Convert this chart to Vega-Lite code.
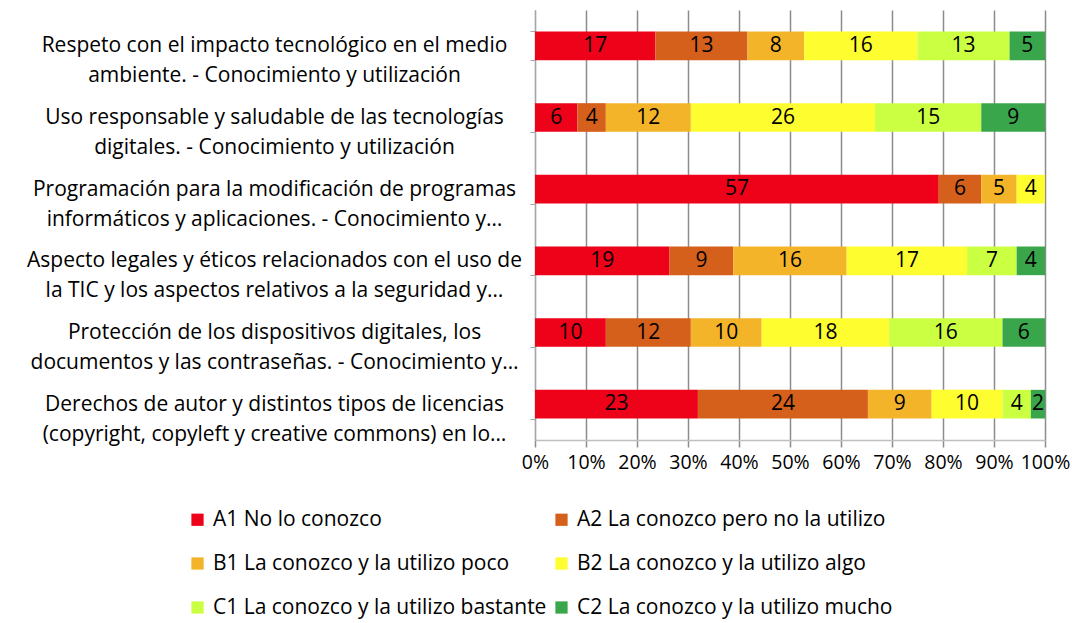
{
  "$schema": "https://vega.github.io/schema/vega-lite/v6.json",
  "width": 510,
  "height": 430,
  "autosize": {"type": "none"},
  "padding": {"left": 535, "top": 10, "right": 27, "bottom": 183},
  "background": "white",
  "config": {"font": "Open Sans", "view": {"stroke": null}},
  "data": {
    "values": [
      {"cat": "Respeto con el impacto tecnológico en el medio|ambiente. - Conocimiento y utilización", "s": "A1 No lo conozco", "v": 17},
      {"cat": "Respeto con el impacto tecnológico en el medio|ambiente. - Conocimiento y utilización", "s": "A2 La conozco pero no la utilizo", "v": 13},
      {"cat": "Respeto con el impacto tecnológico en el medio|ambiente. - Conocimiento y utilización", "s": "B1 La conozco y la utilizo poco", "v": 8},
      {"cat": "Respeto con el impacto tecnológico en el medio|ambiente. - Conocimiento y utilización", "s": "B2 La conozco y la utilizo algo", "v": 16},
      {"cat": "Respeto con el impacto tecnológico en el medio|ambiente. - Conocimiento y utilización", "s": "C1 La conozco y la utilizo bastante", "v": 13},
      {"cat": "Respeto con el impacto tecnológico en el medio|ambiente. - Conocimiento y utilización", "s": "C2 La conozco y la utilizo mucho", "v": 5},
      {"cat": "Uso responsable y saludable de las tecnologías|digitales. - Conocimiento y utilización", "s": "A1 No lo conozco", "v": 6},
      {"cat": "Uso responsable y saludable de las tecnologías|digitales. - Conocimiento y utilización", "s": "A2 La conozco pero no la utilizo", "v": 4},
      {"cat": "Uso responsable y saludable de las tecnologías|digitales. - Conocimiento y utilización", "s": "B1 La conozco y la utilizo poco", "v": 12},
      {"cat": "Uso responsable y saludable de las tecnologías|digitales. - Conocimiento y utilización", "s": "B2 La conozco y la utilizo algo", "v": 26},
      {"cat": "Uso responsable y saludable de las tecnologías|digitales. - Conocimiento y utilización", "s": "C1 La conozco y la utilizo bastante", "v": 15},
      {"cat": "Uso responsable y saludable de las tecnologías|digitales. - Conocimiento y utilización", "s": "C2 La conozco y la utilizo mucho", "v": 9},
      {"cat": "Programación para la modificación de programas|informáticos y aplicaciones. - Conocimiento y…", "s": "A1 No lo conozco", "v": 57},
      {"cat": "Programación para la modificación de programas|informáticos y aplicaciones. - Conocimiento y…", "s": "A2 La conozco pero no la utilizo", "v": 6},
      {"cat": "Programación para la modificación de programas|informáticos y aplicaciones. - Conocimiento y…", "s": "B1 La conozco y la utilizo poco", "v": 5},
      {"cat": "Programación para la modificación de programas|informáticos y aplicaciones. - Conocimiento y…", "s": "B2 La conozco y la utilizo algo", "v": 4},
      {"cat": "Programación para la modificación de programas|informáticos y aplicaciones. - Conocimiento y…", "s": "C1 La conozco y la utilizo bastante", "v": 0},
      {"cat": "Programación para la modificación de programas|informáticos y aplicaciones. - Conocimiento y…", "s": "C2 La conozco y la utilizo mucho", "v": 0},
      {"cat": "Aspecto legales y éticos relacionados con el uso de|la TIC y los aspectos relativos a la seguridad y…", "s": "A1 No lo conozco", "v": 19},
      {"cat": "Aspecto legales y éticos relacionados con el uso de|la TIC y los aspectos relativos a la seguridad y…", "s": "A2 La conozco pero no la utilizo", "v": 9},
      {"cat": "Aspecto legales y éticos relacionados con el uso de|la TIC y los aspectos relativos a la seguridad y…", "s": "B1 La conozco y la utilizo poco", "v": 16},
      {"cat": "Aspecto legales y éticos relacionados con el uso de|la TIC y los aspectos relativos a la seguridad y…", "s": "B2 La conozco y la utilizo algo", "v": 17},
      {"cat": "Aspecto legales y éticos relacionados con el uso de|la TIC y los aspectos relativos a la seguridad y…", "s": "C1 La conozco y la utilizo bastante", "v": 7},
      {"cat": "Aspecto legales y éticos relacionados con el uso de|la TIC y los aspectos relativos a la seguridad y…", "s": "C2 La conozco y la utilizo mucho", "v": 4},
      {"cat": "Protección de los dispositivos digitales, los|documentos y las contraseñas. - Conocimiento y…", "s": "A1 No lo conozco", "v": 10},
      {"cat": "Protección de los dispositivos digitales, los|documentos y las contraseñas. - Conocimiento y…", "s": "A2 La conozco pero no la utilizo", "v": 12},
      {"cat": "Protección de los dispositivos digitales, los|documentos y las contraseñas. - Conocimiento y…", "s": "B1 La conozco y la utilizo poco", "v": 10},
      {"cat": "Protección de los dispositivos digitales, los|documentos y las contraseñas. - Conocimiento y…", "s": "B2 La conozco y la utilizo algo", "v": 18},
      {"cat": "Protección de los dispositivos digitales, los|documentos y las contraseñas. - Conocimiento y…", "s": "C1 La conozco y la utilizo bastante", "v": 16},
      {"cat": "Protección de los dispositivos digitales, los|documentos y las contraseñas. - Conocimiento y…", "s": "C2 La conozco y la utilizo mucho", "v": 6},
      {"cat": "Derechos de autor y distintos tipos de licencias|(copyright, copyleft y creative commons) en lo…", "s": "A1 No lo conozco", "v": 23},
      {"cat": "Derechos de autor y distintos tipos de licencias|(copyright, copyleft y creative commons) en lo…", "s": "A2 La conozco pero no la utilizo", "v": 24},
      {"cat": "Derechos de autor y distintos tipos de licencias|(copyright, copyleft y creative commons) en lo…", "s": "B1 La conozco y la utilizo poco", "v": 9},
      {"cat": "Derechos de autor y distintos tipos de licencias|(copyright, copyleft y creative commons) en lo…", "s": "B2 La conozco y la utilizo algo", "v": 10},
      {"cat": "Derechos de autor y distintos tipos de licencias|(copyright, copyleft y creative commons) en lo…", "s": "C1 La conozco y la utilizo bastante", "v": 4},
      {"cat": "Derechos de autor y distintos tipos de licencias|(copyright, copyleft y creative commons) en lo…", "s": "C2 La conozco y la utilizo mucho", "v": 2}
    ]
  },
  "transform": [
    {"stack": "v", "groupby": ["cat"], "offset": "normalize", "sort": [{"field": "s", "order": "ascending"}], "as": ["x0", "x1"]},
    {"calculate": "(datum.x0 + datum.x1) / 2", "as": "xm"}
  ],
  "encoding": {
    "y": {
      "field": "cat",
      "type": "nominal",
      "sort": null,
      "scale": {"paddingInner": 0.6, "paddingOuter": 0.3},
      "axis": {
        "title": null,
        "labelExpr": "split(datum.label, '|')",
        "labelAlign": "center",
        "labelBaseline": "middle",
        "labelPadding": 256,
        "labelFontSize": 21,
        "labelLineHeight": 30,
        "labelColor": "black",
        "labelLimit": 0,
        "tickBand": "extent",
        "tickSize": 5,
        "tickColor": "#a6a6a6",
        "domainColor": "#a6a6a6"
      }
    }
  },
  "layer": [
    {
      "mark": {"type": "bar"},
      "encoding": {
        "x": {
          "field": "x0",
          "type": "quantitative",
          "scale": {"domain": [0, 1], "nice": false},
          "axis": {
            "title": null,
            "format": ".0%",
            "values": [0, 0.1, 0.2, 0.3, 0.4, 0.5, 0.6, 0.7, 0.8, 0.9, 1],
            "grid": true,
            "gridColor": "#8c8c8c",
            "gridWidth": 1.5,
            "tickColor": "#8c8c8c",
            "tickWidth": 1.5,
            "tickSize": 7,
            "labelFontSize": 19.5,
            "labelColor": "black",
            "labelPadding": 6,
            "labelFlush": false,
            "domainColor": "#bfbfbf",
            "domainWidth": 1.5
          }
        },
        "x2": {"field": "x1"},
        "color": {
          "field": "s",
          "type": "nominal",
          "scale": {
            "domain": ["A1 No lo conozco", "A2 La conozco pero no la utilizo", "B1 La conozco y la utilizo poco", "B2 La conozco y la utilizo algo", "C1 La conozco y la utilizo bastante", "C2 La conozco y la utilizo mucho"],
            "range": ["#ee0219", "#d4601c", "#f4b42a", "#fdfd30", "#cbff42", "#3aa64c"]
          },
          "legend": {
            "orient": "none",
            "direction": "horizontal",
            "legendX": -348,
            "legendY": 499,
            "columns": 2,
            "title": null,
            "symbolType": "square",
            "symbolSize": 150,
            "symbolStrokeWidth": 0,
            "labelFontSize": 21,
            "labelColor": "black",
            "labelLimit": 0,
            "labelOffset": 5,
            "rowPadding": 22,
            "columnPadding": 4
          }
        }
      }
    },
    {
      "transform": [{"filter": "datum.v > 0"}],
      "mark": {"type": "text", "fontSize": 21, "color": "black"},
      "encoding": {
        "x": {"field": "xm", "type": "quantitative"},
        "text": {"field": "v", "type": "quantitative"}
      }
    }
  ]
}
